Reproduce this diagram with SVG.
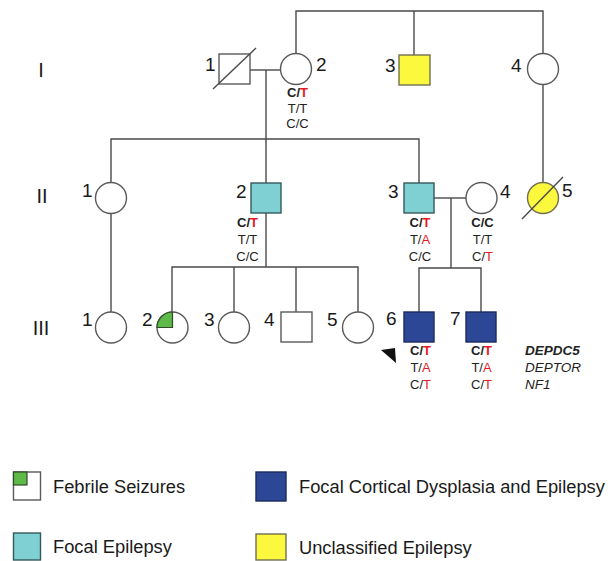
<svg xmlns="http://www.w3.org/2000/svg" width="614" height="561" viewBox="0 0 614 561">
<style>
.ln{stroke:#4a4a4a;stroke-width:1.4;fill:none}
.sym{stroke:#5a5a5a;stroke-width:1.4;fill:#fff}
.cy{fill:#7ed0d3;stroke:#35595b;stroke-width:1.4}
.nv{fill:#2d4797;stroke:#1c2a5e;stroke-width:1.4}
.ye{fill:#fbf83e;stroke:#6f6f52;stroke-width:1.4}
.gr{fill:#5db948;stroke:#2f4a2a;stroke-width:1.2}
.num{font-family:"Liberation Sans",Arial,sans-serif;font-size:19px;fill:#1a1a1a}
.gen{font-family:"Liberation Sans",Arial,sans-serif;font-size:13px;fill:#222;text-anchor:middle}
.b{font-weight:bold}
.r{fill:#e8191f}
.gene{font-family:"Liberation Sans",Arial,sans-serif;font-size:13.5px;fill:#222;font-style:italic}
.rom{font-family:"Liberation Sans",Arial,sans-serif;font-size:20px;fill:#1a1a1a;text-anchor:middle}
.leg{font-family:"Liberation Sans",Arial,sans-serif;font-size:18.3px;fill:#1a1a1a}
</style>

<g id="generations">
<text class="rom" x="41" y="77">I</text>
<text class="rom" x="42" y="203">II</text>
<text class="rom" x="41" y="335">III</text>
</g>

<g id="connectors">
<polyline class="ln" points="296,53 296,11 543,11 543,53"/>
<line class="ln" x1="414" y1="11" x2="414" y2="55"/>
<line class="ln" x1="543" y1="85" x2="543" y2="183"/>
<line class="ln" x1="250" y1="70" x2="281" y2="70"/>
<line class="ln" x1="266" y1="70" x2="266" y2="183"/>
<polyline class="ln" points="111,183 111,139 419,139 419,183"/>
<line class="ln" x1="111" y1="213" x2="111" y2="312"/>
<line class="ln" x1="266" y1="213" x2="266" y2="267"/>
<polyline class="ln" points="172,312 172,267 358,267 358,312"/>
<line class="ln" x1="234" y1="267" x2="234" y2="312"/>
<line class="ln" x1="296" y1="267" x2="296" y2="312"/>
<line class="ln" x1="434" y1="198" x2="466" y2="198"/>
<line class="ln" x1="451" y1="198" x2="451" y2="268"/>
<polyline class="ln" points="419,312 419,268 481,268 481,312"/>
</g>

<g id="I-1">
<rect class="sym" x="219" y="54" width="31" height="30"/>
<line class="ln" x1="213" y1="89" x2="256" y2="48"/>
<text class="num" x="205" y="71">1</text>
</g>
<g id="I-2">
<circle class="sym" cx="296" cy="69" r="15.5"/>
<text class="num" x="316" y="71">2</text>
<text class="gen b" x="297.5" y="97">C/<tspan class="r">T</tspan></text>
<text class="gen" x="297.5" y="113">T/T</text>
<text class="gen" x="297.5" y="128">C/C</text>
</g>
<g id="I-3">
<rect class="ye" x="399" y="55" width="31" height="30"/>
<text class="num" x="385" y="72">3</text>
</g>
<g id="I-4">
<circle class="sym" cx="543" cy="69" r="15.5"/>
<text class="num" x="511" y="72">4</text>
</g>

<g id="II-1">
<circle class="sym" cx="111" cy="198" r="15.5"/>
<text class="num" x="82" y="197">1</text>
</g>
<g id="II-2">
<rect class="cy" x="251" y="183" width="30" height="30"/>
<text class="num" x="236" y="198">2</text>
<text class="gen b" x="247.5" y="227">C/<tspan class="r">T</tspan></text>
<text class="gen" x="247.5" y="244">T/T</text>
<text class="gen" x="247.5" y="261">C/C</text>
</g>
<g id="II-3">
<rect class="cy" x="404" y="183" width="30" height="30"/>
<text class="num" x="388" y="198">3</text>
<text class="gen b" x="420" y="227">C/<tspan class="r">T</tspan></text>
<text class="gen" x="420" y="244">T/<tspan class="r">A</tspan></text>
<text class="gen" x="420" y="261">C/C</text>
</g>
<g id="II-4">
<circle class="sym" cx="481.5" cy="198" r="15.5"/>
<text class="num" x="500" y="198">4</text>
<text class="gen b" x="482.5" y="227">C/C</text>
<text class="gen" x="482.5" y="244">T/T</text>
<text class="gen" x="482.5" y="261">C/<tspan class="r">T</tspan></text>
</g>
<g id="II-5">
<circle class="ye" cx="543" cy="198" r="15.5"/>
<line class="ln" x1="522" y1="219" x2="563" y2="177"/>
<text class="num" x="562" y="197">5</text>
</g>

<g id="III-1">
<circle class="sym" cx="111" cy="327.5" r="15.5"/>
<text class="num" x="82" y="326">1</text>
</g>
<g id="III-2">
<circle class="sym" cx="172.5" cy="327.5" r="15.5"/>
<path class="gr" d="M172.5,327.5 L157,327.5 A15.5,15.5 0 0 1 172.5,312 Z"/>
<text class="num" x="142" y="326">2</text>
</g>
<g id="III-3">
<circle class="sym" cx="234" cy="327.5" r="15.5"/>
<text class="num" x="204" y="326">3</text>
</g>
<g id="III-4">
<rect class="sym" x="281" y="312" width="31" height="30"/>
<text class="num" x="264" y="326">4</text>
</g>
<g id="III-5">
<circle class="sym" cx="358" cy="327.5" r="15.5"/>
<text class="num" x="327" y="326">5</text>
</g>
<g id="III-6">
<rect class="nv" x="404" y="312" width="30" height="30"/>
<text class="num" x="386" y="325">6</text>
<polygon points="381,350 395,348 396,363" fill="#111"/>
<text class="gen b" x="420.5" y="355">C/<tspan class="r">T</tspan></text>
<text class="gen" x="420.5" y="372">T/<tspan class="r">A</tspan></text>
<text class="gen" x="420.5" y="389">C/<tspan class="r">T</tspan></text>
</g>
<g id="III-7">
<rect class="nv" x="466" y="312" width="30" height="30"/>
<text class="num" x="450" y="325">7</text>
<text class="gen b" x="481.5" y="355">C/<tspan class="r">T</tspan></text>
<text class="gen" x="481.5" y="372">T/<tspan class="r">A</tspan></text>
<text class="gen" x="481.5" y="389">C/<tspan class="r">T</tspan></text>
</g>

<g id="genes">
<text class="gene b" x="525" y="355">DEPDC5</text>
<text class="gene" x="525" y="372">DEPTOR</text>
<text class="gene" x="525" y="389">NF1</text>
</g>

<g id="legend">
<rect class="sym" x="13.5" y="472" width="27" height="28"/>
<rect class="gr" x="13.5" y="472" width="13.5" height="13"/>
<text class="leg" x="53" y="493">Febrile Seizures</text>
<rect class="nv" x="256" y="472" width="30" height="29"/>
<text class="leg" x="299" y="493">Focal Cortical Dysplasia and Epilepsy</text>
<rect class="cy" x="13.5" y="533" width="27" height="27"/>
<text class="leg" x="53" y="553">Focal Epilepsy</text>
<rect class="ye" x="256" y="534" width="30" height="26"/>
<text class="leg" x="299" y="554">Unclassified Epilepsy</text>
</g>
</svg>
